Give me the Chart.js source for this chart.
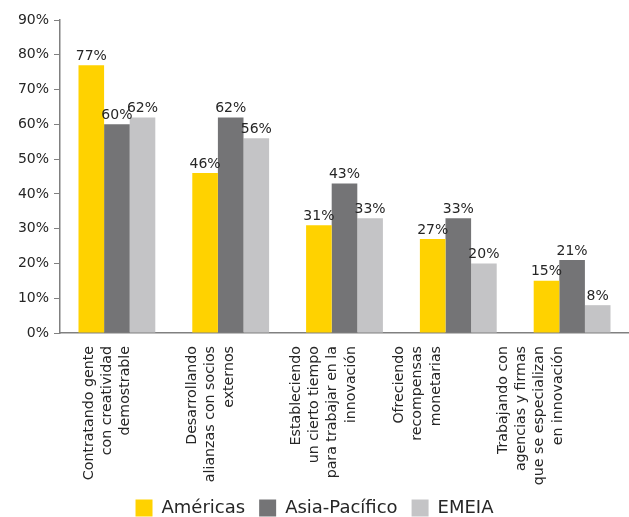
<!DOCTYPE html>
<html>
<head>
<meta charset="utf-8">
<script src="https://cdn.jsdelivr.net/npm/chart.js@4"></script>
<style>
  html, body { margin: 0; padding: 0; background: #fff; }
  #wrap { width: 629px; height: 517px; }
</style>
</head>
<body>
<div id="wrap"><canvas id="innovChart"></canvas></div>
<script>
// categorias (cada una partida en lineas)
const categories = [
    ["Contratando gente", "con creatividad", "demostrable"],
    ["Desarrollando", "alianzas con socios", "externos"],
    ["Estableciendo", "un cierto tiempo", "para trabajar en la", "innovación"],
    ["Ofreciendo", "recompensas", "monetarias"],
    ["Trabajando con", "agencias y firmas", "que se especializan", "en innovación"]
];

// porcentajes por region
const americas = [77, 46, 31, 27, 15];
const asiaPacifico = [60, 62, 43, 33, 21];
const emeia = [62, 56, 33, 20, 8];

const seriesNames = ["Américas", "Asia-Pacífico", "EMEIA"];
const yTicks = [0, 10, 20, 30, 40, 50, 60, 70, 80, 90];

const colors = ['#FFD200', '#747476', '#C4C4C6'];
const textColor = '#262626';
const axisColor = '#808080';

// numeros encima de cada barra
const valueLabels = {
    id: 'valueLabels',
    afterDatasetsDraw(chart) {
        const ctx = chart.ctx;
        ctx.save();
        ctx.font = '14px "DejaVu Sans"';
        ctx.fillStyle = textColor;
        ctx.textAlign = 'center';
        ctx.textBaseline = 'bottom';
        chart.data.datasets.forEach((ds, d) => {
            chart.getDatasetMeta(d).data.forEach((bar, i) => {
                ctx.fillText(ds.data[i] + '%', bar.x, bar.y - 2);
            });
        });
        ctx.restore();
    }
};

// etiquetas del eje x, giradas y en varias lineas
const categoryLabels = {
    id: 'categoryLabels',
    afterDraw(chart) {
        const ctx = chart.ctx;
        const area = chart.chartArea;
        ctx.save();
        ctx.font = '14.2px "DejaVu Sans"';
        ctx.fillStyle = textColor;
        ctx.textAlign = 'right';
        ctx.textBaseline = 'middle';
        categories.forEach((lines, i) => {
            const x0 = area.left + 29 + i * 103.5;
            lines.forEach((line, j) => {
                ctx.save();
                ctx.translate(x0 + j * 18.3, area.bottom + 13);
                ctx.rotate(-Math.PI / 2);
                ctx.fillText(line, 0, 0);
                ctx.restore();
            });
        });
        ctx.restore();
    }
};

const ctx = document.getElementById('innovChart').getContext('2d');

new Chart(ctx, {
    type: 'bar',
    data: {
        labels: categories.map(c => c.join(' ')),
        datasets: [
            { label: seriesNames[0], data: americas, backgroundColor: colors[0] },
            { label: seriesNames[1], data: asiaPacifico, backgroundColor: colors[1] },
            { label: seriesNames[2], data: emeia, backgroundColor: colors[2] }
        ]
    },
    options: {
        responsive: true,
        maintainAspectRatio: false,
        animation: false,
        layout: { padding: { top: 20, right: 0, left: 0, bottom: -10 } },
        datasets: {
            bar: { barPercentage: 1, categoryPercentage: 0.675, borderWidth: 0 }
        },
        plugins: {
            tooltip: { enabled: false },
            legend: {
                position: 'bottom',
                labels: {
                    boxWidth: 17,
                    boxHeight: 17,
                    padding: 14,
                    color: textColor,
                    font: { family: 'DejaVu Sans', size: 18 }
                }
            }
        },
        scales: {
            x: {
                grid: { display: false },
                border: { display: true, color: axisColor, width: 1.5 },
                ticks: { display: false },
                afterFit(scale) { scale.height = 152; }
            },
            y: {
                min: 0,
                max: 90,
                afterBuildTicks(scale) { scale.ticks = yTicks.map(v => ({ value: v })); },
                grid: { drawOnChartArea: false, drawTicks: true, tickLength: 6, color: axisColor },
                border: { color: axisColor, width: 1.5 },
                ticks: {
                    padding: 5,
                    color: textColor,
                    font: { family: 'DejaVu Sans', size: 14 },
                    callback: v => v + '%'
                },
                afterFit(scale) { scale.width = 60; }
            }
        }
    },
    plugins: [valueLabels, categoryLabels]
});
</script>
</body>
</html>
